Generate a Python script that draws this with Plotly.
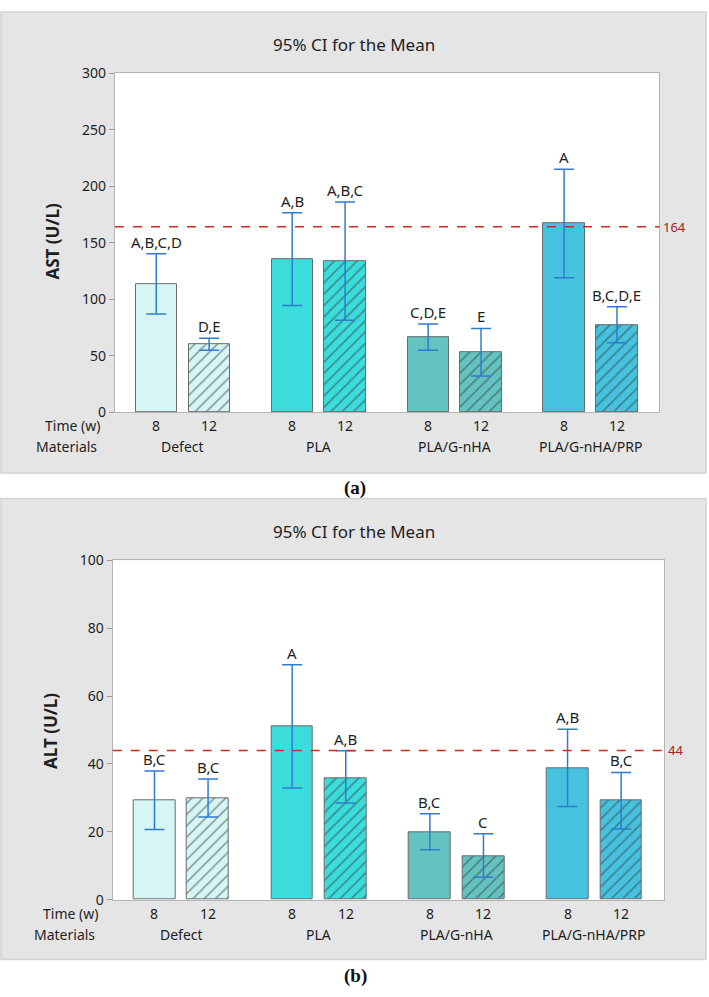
import plotly.graph_objects as go

# ---------------- data ----------------
materials = ["Defect", "PLA", "PLA/G-nHA", "PLA/G-nHA/PRP"]
times = ["8", "12"]

ast_mean = [113.4, 60.2, 135.7, 134.0, 66.5, 53.5, 166.9, 77.3]
ast_upper = [140.3, 65.4, 176.5, 186.0, 78.1, 74.1, 215.0, 93.2]
ast_lower = [86.8, 54.7, 94.3, 81.3, 54.7, 32.1, 118.9, 61.4]
ast_letters = ["A,B,C,D", "D,E", "A,B", "A,B,C", "C,D,E", "E", "A", "B,C,D,E"]
ast_ref = 164
ast_ticks = [0, 50, 100, 150, 200, 250, 300]

alt_mean = [29.3, 30.0, 51.0, 35.9, 19.9, 12.9, 38.8, 29.3]
alt_upper = [37.9, 35.6, 69.2, 43.9, 25.3, 19.4, 50.2, 37.5]
alt_lower = [20.7, 24.4, 32.9, 28.5, 14.7, 6.6, 27.5, 20.8]
alt_letters = ["B,C", "B,C", "A", "A,B", "B,C", "C", "A,B", "B,C"]
alt_ref = 44
alt_ticks = [0, 20, 40, 60, 80, 100]

material_colors = ["#d6f6f6", "#3adcdc", "#63c3c1", "#46c2df"]

# ---------------- layout helpers ----------------
W, H = 709, 997
FONT = "Noto Sans"
TXT = "#1e1e1e"


def px(x):
    return x / W


def py(y):
    return 1 - y / H


GROUP_GAP = 2.57
n_t = len(times)
positions = [g * GROUP_GAP + t for g in range(len(materials)) for t in range(n_t)]
group_centers = [g * GROUP_GAP + 0.5 for g in range(len(materials))]
time_labels = [times[t] for g in range(len(materials)) for t in range(n_t)]

panels = [
    dict(mean=ast_mean, upper=ast_upper, lower=ast_lower, letters=ast_letters,
         ref=ast_ref, ticks=ast_ticks, ytitle="AST (U/L)", xa="x", ya="y",
         xdom=(115, 659.3), ydom=(64.4, 410), box=(1, 2, 706, 472),
         title_y=35, ytitle_xy=(53, 235), time_y=423.5, mat_y=445, tag="(a)", tag_y=487),
    dict(mean=alt_mean, upper=alt_upper, lower=alt_lower, letters=alt_letters,
         ref=alt_ref, ticks=alt_ticks, ytitle="ALT (U/L)", xa="x2", ya="y2",
         xdom=(112.7, 664), ydom=(561, 907), box=(1, 498, 706, 968),
         title_y=532, ytitle_xy=(51, 735), time_y=921, mat_y=942, tag="(b)", tag_y=985),
]

fig = go.Figure()
shapes = []
annotations = []
layout_axes = {}

for i, p in enumerate(panels):
    sfx = "" if i == 0 else str(i + 1)
    x0, y0, x1, y1 = p["box"]
    shapes.append(dict(type="rect", xref="paper", yref="paper", x0=px(x0), x1=px(x1),
                       y0=py(y1), y1=py(y0), fillcolor="#e5e5e5",
                       line=dict(color="#d2d2d2", width=1.5), layer="below"))
    shapes.append(dict(type="rect", xref="paper", yref="paper", x0=px(p["xdom"][0]), x1=px(p["xdom"][1]),
                       y0=py(p["ydom"][1]), y1=py(p["ydom"][0]), fillcolor="white",
                       line=dict(width=0), layer="below"))

    # one bar trace per bar so each has its own scalar fill / hatch
    for k in range(len(positions)):
        g, t = divmod(k, n_t)
        col = material_colors[g]
        m = p["mean"][k]
        pattern = dict(shape="/", fgcolor="#3a3a3a", bgcolor=col, size=8, solidity=0.2,
                       fillmode="overlay") if t == 1 else dict(shape="")
        fig.add_trace(go.Bar(
            x=[positions[k]], y=[m], width=0.78, xaxis=p["xa"], yaxis=p["ya"],
            marker=dict(color=col, line=dict(color="#6a6a6a", width=1), pattern=pattern),
            error_y=dict(type="data", symmetric=False, array=[p["upper"][k] - m],
                         arrayminus=[m - p["lower"][k]],
                         color="#2f7bd0", thickness=1.5, width=10),
            hoverinfo="skip", showlegend=False,
        ))

    shapes.append(dict(type="line", xref=p["xa"] + " domain", yref=p["ya"], x0=0, x1=1,
                       y0=p["ref"], y1=p["ref"], line=dict(color="#d9261c", width=1.5, dash="dash"),
                       layer="above"))
    annotations.append(dict(xref=p["xa"] + " domain", yref=p["ya"], x=1, y=p["ref"], xanchor="left",
                            yanchor="middle", xshift=2, text=str(p["ref"]), showarrow=False,
                            font=dict(family=FONT, size=13, color="#a8201a")))

    for xpos, up, lt in zip(positions, p["upper"], p["letters"]):
        annotations.append(dict(xref=p["xa"], yref=p["ya"], x=xpos, y=up, yanchor="bottom",
                                yshift=0, text=lt, showarrow=False,
                                font=dict(family=FONT, size=15, color=TXT)))

    for xpos, tl in zip(positions, time_labels):
        annotations.append(dict(xref=p["xa"], yref="paper", x=xpos, y=py(p["time_y"]), yanchor="middle",
                                text=tl, showarrow=False, font=dict(family=FONT, size=14, color=TXT)))
    for xpos, mname in zip(group_centers, materials):
        annotations.append(dict(xref=p["xa"], yref="paper", x=xpos, y=py(p["mat_y"]), yanchor="middle",
                                text=mname, showarrow=False, font=dict(family=FONT, size=14, color=TXT)))
    annotations.append(dict(xref="paper", yref="paper", x=px(p["xdom"][0] - 13), y=py(p["time_y"]),
                            xanchor="right", yanchor="middle", text="Time (w)", showarrow=False,
                            font=dict(family=FONT, size=14, color=TXT)))
    annotations.append(dict(xref="paper", yref="paper", x=px(p["xdom"][0] - 16), y=py(p["mat_y"]),
                            xanchor="right", yanchor="middle", text="Materials", showarrow=False,
                            font=dict(family=FONT, size=14, color=TXT)))
    annotations.append(dict(xref="paper", yref="paper", x=px(354), y=py(p["title_y"]),
                            xanchor="center", yanchor="middle", text="95% CI for the Mean", showarrow=False,
                            font=dict(family=FONT, size=17, color=TXT)))
    annotations.append(dict(xref="paper", yref="paper", x=px(p["ytitle_xy"][0]), y=py(p["ytitle_xy"][1]),
                            xanchor="center", yanchor="middle", textangle=-90, text="<b>" + p["ytitle"] + "</b>",
                            showarrow=False, font=dict(family=FONT, size=17, color=TXT)))
    annotations.append(dict(xref="paper", yref="paper", x=px(355), y=py(p["tag_y"]),
                            xanchor="center", yanchor="middle", text="<b>" + p["tag"] + "</b>",
                            showarrow=False, font=dict(family="Liberation Serif", size=19, color="#111111")))

    layout_axes["xaxis" + sfx] = dict(domain=[px(p["xdom"][0]), px(p["xdom"][1])], range=[-0.78, 9.51],
                                      showticklabels=False, ticks="", showgrid=False, zeroline=False,
                                      showline=True, mirror=True, linecolor="#b4b4b4", linewidth=1.2,
                                      anchor=p["ya"], fixedrange=True)
    layout_axes["yaxis" + sfx] = dict(domain=[py(p["ydom"][1]), py(p["ydom"][0])],
                                      range=[p["ticks"][0], p["ticks"][-1]], tickvals=p["ticks"],
                                      ticks="outside", ticklen=5, tickcolor="#9a9a9a", showgrid=False,
                                      zeroline=False, showline=True, mirror=True, linecolor="#b4b4b4",
                                      linewidth=1.2, anchor=p["xa"],
                                      tickfont=dict(family=FONT, size=14, color=TXT), fixedrange=True)

fig.update_layout(
    width=W, height=H, margin=dict(l=0, r=0, t=0, b=0),
    paper_bgcolor="white", plot_bgcolor="white", showlegend=False,
    shapes=shapes, annotations=annotations, bargap=0, barmode="overlay",
    font=dict(family=FONT, color=TXT),
    **layout_axes,
)

fig.write_html("out.html", config={"displayModeBar": False},
               post_script="document.body.style.margin='0';document.body.style.overflow='hidden';")
